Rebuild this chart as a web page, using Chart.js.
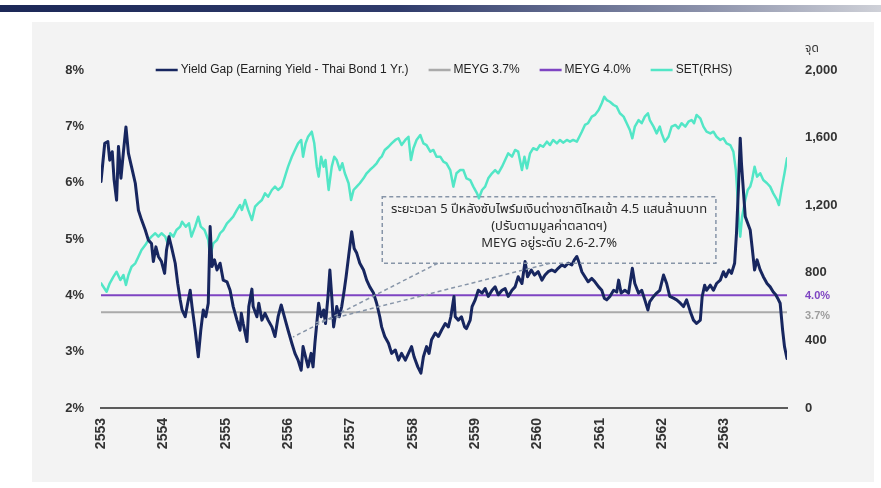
<!DOCTYPE html>
<html>
<head>
<meta charset="utf-8">
<script src="https://cdn.jsdelivr.net/npm/chart.js@4.4.1/dist/chart.umd.min.js"></script>
<style>
  html, body { margin: 0; padding: 0; background: #ffffff; }
  #wrap { position: relative; width: 881px; height: 488px; overflow: hidden; }
  #topbar { position: absolute; left: 0; top: 5px; width: 881px; height: 7px;
            background: linear-gradient(to right, #1c2857 0%, #2f3b6b 45%, #8c92ab 80%, #cfd1d8 100%); }
  #panel { position: absolute; left: 32px; top: 22px; width: 842px; height: 460px; background: #f3f3f3; }
  canvas { position: absolute; left: 0; top: 0; }
</style>
</head>
<body>
<div id="wrap">
  <div id="topbar"></div>
  <div id="panel"></div>
  <canvas id="gapChart" width="881" height="488"></canvas>
</div>
<script>
// Yield gap (earning yield minus 1-yr Thai bond), %, by Thai calendar year
const ygYears = [
  2553.00, 2553.06, 2553.11, 2553.14, 2553.18, 2553.21, 2553.25, 2553.28, 2553.32, 2553.36,
  2553.40, 2553.44, 2553.49, 2553.55, 2553.60, 2553.65, 2553.71, 2553.76, 2553.81, 2553.84,
  2553.88, 2553.92, 2553.97, 2554.02, 2554.05, 2554.09, 2554.13, 2554.19, 2554.23, 2554.27,
  2554.30, 2554.35, 2554.39, 2554.43, 2554.46, 2554.51, 2554.56, 2554.60, 2554.64, 2554.68,
  2554.72, 2554.75, 2554.78, 2554.82, 2554.86, 2554.91, 2554.96, 2555.02, 2555.07, 2555.12,
  2555.18, 2555.23, 2555.25, 2555.28, 2555.34, 2555.37, 2555.42, 2555.44, 2555.50, 2555.53,
  2555.58, 2555.63, 2555.68, 2555.74, 2555.79, 2555.84, 2555.89, 2555.94, 2556.00, 2556.06,
  2556.11, 2556.16, 2556.21, 2556.24, 2556.28, 2556.32, 2556.37, 2556.40, 2556.43, 2556.46,
  2556.49, 2556.53, 2556.57, 2556.60, 2556.64, 2556.67, 2556.70, 2556.73, 2556.78, 2556.82,
  2556.86, 2556.90, 2556.93, 2556.97, 2557.02, 2557.06, 2557.10, 2557.15, 2557.21, 2557.26,
  2557.31, 2557.37, 2557.42, 2557.47, 2557.50, 2557.55, 2557.61, 2557.66, 2557.72, 2557.77,
  2557.82, 2557.88, 2557.93, 2557.98, 2558.02, 2558.08, 2558.13, 2558.17, 2558.22, 2558.26,
  2558.30, 2558.36, 2558.41, 2558.46, 2558.52, 2558.57, 2558.61, 2558.66, 2558.68, 2558.73,
  2558.78, 2558.83, 2558.86, 2558.92, 2558.95, 2559.00, 2559.05, 2559.11, 2559.16, 2559.21,
  2559.27, 2559.32, 2559.37, 2559.43, 2559.48, 2559.53, 2559.59, 2559.64, 2559.69, 2559.75,
  2559.80, 2559.84, 2559.90, 2559.95, 2560.01, 2560.07, 2560.12, 2560.17, 2560.23, 2560.28,
  2560.33, 2560.39, 2560.44, 2560.49, 2560.55, 2560.59, 2560.63, 2560.67, 2560.71, 2560.76,
  2560.81, 2560.87, 2560.92, 2560.98, 2561.03, 2561.07, 2561.11, 2561.16, 2561.22, 2561.27,
  2561.30, 2561.34, 2561.40, 2561.46, 2561.52, 2561.56, 2561.62, 2561.67, 2561.72, 2561.77,
  2561.80, 2561.86, 2561.91, 2561.96, 2562.02, 2562.07, 2562.12, 2562.18, 2562.23, 2562.29,
  2562.34, 2562.39, 2562.45, 2562.50, 2562.55, 2562.61, 2562.64, 2562.68, 2562.71, 2562.77,
  2562.82, 2562.87, 2562.93, 2562.98, 2563.02, 2563.07, 2563.11, 2563.16, 2563.19, 2563.22,
  2563.25, 2563.27, 2563.30, 2563.33, 2563.37, 2563.41, 2563.44, 2563.48, 2563.52, 2563.57,
  2563.62, 2563.68, 2563.73, 2563.78, 2563.82, 2563.85, 2563.89, 2563.93, 2563.96, 2564.00
];
const ygValues = [
  6.02, 6.70, 6.73, 6.40, 6.55, 6.05, 5.69, 6.64, 6.08, 6.55,
  6.99, 6.52, 6.28, 5.99, 5.51, 5.34, 5.16, 4.98, 4.92, 4.60,
  4.86, 4.69, 4.60, 4.39, 4.80, 5.04, 4.86, 4.57, 4.21, 3.92,
  3.74, 3.62, 3.86, 4.09, 3.80, 3.38, 2.91, 3.38, 3.74, 3.62,
  3.86, 5.22, 4.51, 4.63, 4.45, 4.57, 4.27, 4.24, 4.09, 3.80,
  3.56, 3.38, 3.68, 3.50, 3.18, 3.80, 4.11, 3.80, 3.62, 3.86,
  3.56, 3.68, 3.56, 3.44, 3.27, 3.62, 3.83, 3.62, 3.38, 3.15,
  2.97, 2.85, 2.67, 3.09, 2.91, 2.73, 2.97, 2.73, 3.15, 3.50,
  3.86, 3.62, 3.74, 3.50, 3.98, 4.45, 3.98, 3.44, 3.80, 3.62,
  3.80, 4.09, 4.33, 4.69, 5.13, 4.83, 4.75, 4.57, 4.45, 4.27,
  4.15, 4.04, 3.86, 3.62, 3.44, 3.27, 3.15, 2.97, 3.03, 2.85,
  2.97, 2.85, 2.97, 3.09, 2.91, 2.73, 2.62, 2.91, 3.09, 2.97,
  3.21, 3.33, 3.27, 3.38, 3.50, 3.44, 3.62, 3.98, 3.62, 3.56,
  3.62, 3.44, 3.41, 3.56, 3.80, 3.92, 4.09, 4.04, 4.12, 3.98,
  4.09, 4.15, 4.01, 4.09, 4.12, 3.98, 4.09, 4.15, 4.33, 4.21,
  4.60, 4.33, 4.45, 4.36, 4.42, 4.27, 4.36, 4.42, 4.45, 4.42,
  4.48, 4.54, 4.51, 4.57, 4.54, 4.63, 4.69, 4.57, 4.42, 4.33,
  4.24, 4.30, 4.24, 4.15, 4.09, 3.95, 3.92, 3.98, 4.09, 4.06,
  4.27, 4.04, 4.09, 4.04, 4.48, 4.21, 4.04, 4.09, 3.92, 3.74,
  3.89, 3.98, 4.04, 4.09, 4.36, 4.21, 3.98, 3.95, 3.92, 3.86,
  3.80, 3.92, 3.71, 3.56, 3.50, 3.56, 3.98, 4.18, 4.09, 4.18,
  4.09, 4.21, 4.27, 4.42, 4.33, 4.45, 4.39, 4.57, 5.10, 5.87,
  6.79, 6.34, 5.87, 5.40, 5.28, 5.16, 4.86, 4.45, 4.63, 4.45,
  4.33, 4.21, 4.15, 4.06, 4.01, 3.95, 3.86, 3.38, 3.09, 2.88
];

// SET index, points (right axis)
const setYears = [
  2553.00, 2553.09, 2553.14, 2553.20, 2553.25, 2553.31, 2553.36, 2553.40, 2553.44, 2553.49,
  2553.55, 2553.60, 2553.65, 2553.71, 2553.76, 2553.81, 2553.87, 2553.92, 2553.97, 2554.03,
  2554.07, 2554.11, 2554.16, 2554.21, 2554.27, 2554.30, 2554.36, 2554.41, 2554.45, 2554.51,
  2554.56, 2554.60, 2554.66, 2554.72, 2554.75, 2554.80, 2554.86, 2554.91, 2554.96, 2555.02,
  2555.07, 2555.12, 2555.18, 2555.23, 2555.26, 2555.31, 2555.36, 2555.42, 2555.47, 2555.52,
  2555.58, 2555.63, 2555.68, 2555.74, 2555.79, 2555.84, 2555.90, 2555.95, 2556.00, 2556.06,
  2556.11, 2556.16, 2556.21, 2556.24, 2556.28, 2556.32, 2556.38, 2556.42, 2556.46, 2556.49,
  2556.53, 2556.57, 2556.60, 2556.65, 2556.70, 2556.74, 2556.78, 2556.83, 2556.87, 2556.91,
  2556.97, 2557.01, 2557.05, 2557.10, 2557.15, 2557.21, 2557.26, 2557.31, 2557.37, 2557.42,
  2557.47, 2557.50, 2557.55, 2557.61, 2557.66, 2557.72, 2557.77, 2557.82, 2557.88, 2557.93,
  2557.97, 2558.01, 2558.06, 2558.12, 2558.17, 2558.22, 2558.28, 2558.33, 2558.38, 2558.44,
  2558.49, 2558.54, 2558.60, 2558.65, 2558.70, 2558.76, 2558.81, 2558.86, 2558.92, 2558.97,
  2559.03, 2559.06, 2559.11, 2559.16, 2559.21, 2559.27, 2559.32, 2559.37, 2559.43, 2559.48,
  2559.53, 2559.59, 2559.64, 2559.69, 2559.75, 2559.79, 2559.83, 2559.88, 2559.93, 2559.99,
  2560.04, 2560.09, 2560.15, 2560.20, 2560.25, 2560.31, 2560.36, 2560.41, 2560.47, 2560.52,
  2560.57, 2560.63, 2560.67, 2560.71, 2560.76, 2560.81, 2560.87, 2560.92, 2560.98, 2561.03,
  2561.07, 2561.11, 2561.16, 2561.22, 2561.27, 2561.32, 2561.38, 2561.43, 2561.48, 2561.52,
  2561.56, 2561.62, 2561.67, 2561.72, 2561.77, 2561.80, 2561.86, 2561.91, 2561.96, 2561.99,
  2562.04, 2562.10, 2562.15, 2562.21, 2562.26, 2562.31, 2562.37, 2562.42, 2562.47, 2562.51,
  2562.55, 2562.61, 2562.66, 2562.71, 2562.77, 2562.82, 2562.87, 2562.93, 2562.98, 2563.03,
  2563.09, 2563.14, 2563.18, 2563.21, 2563.23, 2563.25, 2563.28, 2563.33, 2563.37, 2563.41,
  2563.44, 2563.48, 2563.52, 2563.57, 2563.62, 2563.68, 2563.73, 2563.78, 2563.84, 2563.87,
  2563.92, 2563.96, 2564.00
];
const setValues = [
   738,  688,  738,  777,  806,  757,  787,  728,  787,  836,
   856,  895,  935,  964,  994, 1014, 1034, 1014, 1034, 1014,
   974, 1034, 1014, 1053, 1073, 1102, 1073, 1093, 1014, 1073,
  1132, 1073, 1053,  994,  895,  974,  994, 1034, 1053, 1093,
  1112, 1132, 1172, 1201, 1172, 1231, 1172, 1112, 1191, 1211,
  1231, 1270, 1250, 1290, 1310, 1290, 1310, 1369, 1428, 1487,
  1527, 1566, 1586, 1487, 1566, 1605, 1635, 1566, 1428, 1369,
  1487, 1428, 1467, 1290, 1428, 1487, 1467, 1408, 1448, 1389,
  1330, 1231, 1290, 1310, 1330, 1359, 1389, 1408, 1428, 1448,
  1477, 1487, 1527, 1546, 1566, 1586, 1596, 1556, 1586, 1605,
  1467, 1537, 1586, 1615, 1566, 1556, 1517, 1527, 1487, 1487,
  1458, 1448, 1408, 1310, 1389, 1408, 1408, 1359, 1349, 1310,
  1270, 1241, 1290, 1310, 1359, 1389, 1408, 1389, 1428, 1467,
  1507, 1487, 1527, 1517, 1408, 1487, 1418, 1507, 1537, 1527,
  1556, 1546, 1576, 1556, 1586, 1566, 1586, 1570, 1586, 1576,
  1586, 1576, 1605, 1635, 1675, 1685, 1724, 1734, 1763, 1803,
  1842, 1822, 1812, 1793, 1783, 1744, 1724, 1685, 1645, 1596,
  1665, 1704, 1685, 1724, 1744, 1704, 1665, 1625, 1665, 1625,
  1576, 1605, 1665, 1675, 1655, 1685, 1665, 1694, 1704, 1685,
  1734, 1714, 1665, 1635, 1625, 1635, 1605, 1586, 1596, 1566,
  1556, 1517, 1408, 1231, 1093, 1014, 1132, 1231, 1290, 1310,
  1349, 1428, 1369, 1389, 1349, 1330, 1310, 1270, 1231, 1201,
  1310, 1389, 1477
];

// Market earning-yield-gap reference levels, %
const meygLow = 3.7;
const meygHigh = 4.0;

const seriesLabels = ['Yield Gap (Earning Yield - Thai Bond 1 Yr.)', 'MEYG 3.7%', 'MEYG 4.0%', 'SET(RHS)'];
const seriesColors = ['#17265f', '#aaaaaa', '#7e44c2', '#52e6c6'];

// Callout: 5 years after subprime, foreign inflows of 450bn baht, MEYG at 2.6-2.7%
const noteLines = [
  'ระยะเวลา 5 ปีหลังซับไพร์มเงินต่างชาติไหลเข้า 4.5 แสนล้านบาท',
  '(ปรับตามมูลค่าตลาดฯ)',
  'MEYG อยู่ระดับ 2.6-2.7%'
];
const noteBox = { x0: 2557.51, x1: 2562.86, yTop: 5.75, yBottom: 4.57 };
const noteLeaders = [
  [[2558.40, 4.57], [2556.08, 3.26]],
  [[2560.20, 4.57], [2556.43, 3.51]]
];

const startYear = ygYears[0];
const endYear = ygYears[ygYears.length - 1];

const FONT = "'Liberation Sans', Arial, sans-serif";
const THAI_FONT = "'Noto Sans Thai', Tahoma, 'Noto Sans', 'DejaVu Sans', sans-serif";

function pairs(xs, ys) {
  return xs.map((x, i) => ({ x: x, y: ys[i] }));
}

// legend row drawn above the plot, centred on the chart area
const topLegend = {
  id: 'topLegend',
  afterDraw(chart) {
    const ctx = chart.ctx;
    const area = chart.chartArea;
    const sample = 22, gap = 3, spacing = 20;
    ctx.save();
    ctx.font = '12px ' + FONT;
    const items = chart.data.datasets.map(ds => ({
      label: ds.label, color: ds.borderColor, w: ctx.measureText(ds.label).width
    }));
    const total = items.reduce((s, it) => s + sample + gap + it.w, 0) + spacing * (items.length - 1);
    let x = (area.left + area.right) / 2 - total / 2;
    const y = area.top;
    ctx.textBaseline = 'middle';
    items.forEach(it => {
      ctx.strokeStyle = it.color;
      ctx.lineWidth = 2.5;
      ctx.beginPath();
      ctx.moveTo(x, y);
      ctx.lineTo(x + sample, y);
      ctx.stroke();
      ctx.fillStyle = '#222';
      ctx.fillText(it.label, x + sample + gap, y);
      x += sample + gap + it.w + spacing;
    });
    ctx.restore();
  }
};

// unit caption over the right axis and the level tags beside the MEYG lines
const axisNotes = {
  id: 'axisNotes',
  afterDraw(chart) {
    const ctx = chart.ctx;
    const y = chart.scales.y;
    const x0 = chart.chartArea.right + 18;
    ctx.save();
    ctx.textBaseline = 'middle';
    ctx.textAlign = 'left';
    ctx.fillStyle = '#333';
    ctx.font = '12px ' + THAI_FONT;
    ctx.fillText('จุด', x0, chart.chartArea.top - 20);
    ctx.font = 'bold 11px ' + FONT;
    ctx.fillStyle = seriesColors[2];
    ctx.fillText(meygHigh.toFixed(1) + '%', x0, y.getPixelForValue(meygHigh) + 1);
    ctx.fillStyle = '#9d9d9d';
    ctx.fillText(meygLow.toFixed(1) + '%', x0, y.getPixelForValue(meygLow) + 4);
    ctx.restore();
  }
};

// dashed callout box with its two leader lines
const callout = {
  id: 'callout',
  afterDatasetsDraw(chart) {
    const ctx = chart.ctx;
    const sx = chart.scales.x, sy = chart.scales.y;
    const left = sx.getPixelForValue(noteBox.x0);
    const right = sx.getPixelForValue(noteBox.x1);
    const top = sy.getPixelForValue(noteBox.yTop);
    const bottom = sy.getPixelForValue(noteBox.yBottom);
    ctx.save();
    ctx.strokeStyle = '#8795a8';
    ctx.lineWidth = 1.5;
    ctx.setLineDash([4, 3]);
    ctx.strokeRect(left, top, right - left, bottom - top);
    noteLeaders.forEach(seg => {
      ctx.beginPath();
      ctx.moveTo(sx.getPixelForValue(seg[0][0]), sy.getPixelForValue(seg[0][1]));
      ctx.lineTo(sx.getPixelForValue(seg[1][0]), sy.getPixelForValue(seg[1][1]));
      ctx.stroke();
    });
    ctx.setLineDash([]);
    ctx.fillStyle = '#2a2a2a';
    ctx.textAlign = 'center';
    ctx.textBaseline = 'middle';
    ctx.font = '13px ' + THAI_FONT;
    const cx = (left + right) / 2;
    ctx.fillText(noteLines[0], cx, top + 14);
    ctx.fillText(noteLines[1], cx, top + 31);
    ctx.fillText(noteLines[2], cx, top + 48);
    ctx.restore();
  }
};

const tickFont = { family: FONT, size: 13, weight: 'bold' };

new Chart(document.getElementById('gapChart'), {
  type: 'line',
  data: {
    datasets: [
      {
        label: seriesLabels[0],
        data: pairs(ygYears, ygValues),
        borderColor: seriesColors[0],
        borderWidth: 3,
        yAxisID: 'y'
      },
      {
        label: seriesLabels[1],
        data: [{ x: startYear, y: meygLow }, { x: endYear, y: meygLow }],
        borderColor: seriesColors[1],
        borderWidth: 2,
        yAxisID: 'y'
      },
      {
        label: seriesLabels[2],
        data: [{ x: startYear, y: meygHigh }, { x: endYear, y: meygHigh }],
        borderColor: seriesColors[2],
        borderWidth: 2,
        yAxisID: 'y'
      },
      {
        label: seriesLabels[3],
        data: pairs(setYears, setValues),
        borderColor: seriesColors[3],
        borderWidth: 2.5,
        yAxisID: 'y1'
      }
    ]
  },
  options: {
    responsive: false,
    animation: false,
    devicePixelRatio: 1,
    layout: { padding: { top: 70, left: 0, right: 0, bottom: 0 } },
    elements: {
      point: { radius: 0 },
      line: { tension: 0, borderJoinStyle: 'round', borderCapStyle: 'round' }
    },
    plugins: {
      legend: { display: false },
      tooltip: { enabled: false }
    },
    scales: {
      x: {
        type: 'linear',
        min: 2553,
        max: 2564,
        grid: { display: false, drawTicks: false },
        border: { display: true, color: '#5b5b5b', width: 2 },
        afterBuildTicks: s => { s.ticks = s.ticks.filter(t => t.value < 2564); },
        afterFit: s => { s.height = 80; },
        ticks: {
          stepSize: 1,
          autoSkip: false,
          minRotation: 90,
          maxRotation: 90,
          padding: 10,
          color: '#333',
          font: { family: FONT, size: 14, weight: 'bold' },
          callback: v => String(v)
        }
      },
      y: {
        position: 'left',
        min: 2,
        max: 8,
        grid: { display: false, drawTicks: false },
        border: { display: false },
        afterFit: s => { s.width = 101; },
        ticks: {
          stepSize: 1,
          padding: 17,
          color: '#333',
          font: tickFont,
          callback: v => v + '%'
        }
      },
      y1: {
        position: 'right',
        min: 0,
        max: 2000,
        grid: { display: false, drawTicks: false },
        border: { display: false },
        afterFit: s => { s.width = 94; },
        ticks: {
          stepSize: 400,
          padding: 18,
          color: '#333',
          font: tickFont,
          callback: v => v.toLocaleString('en-US')
        }
      }
    }
  },
  plugins: [topLegend, axisNotes, callout]
});
</script>
</body>
</html>
